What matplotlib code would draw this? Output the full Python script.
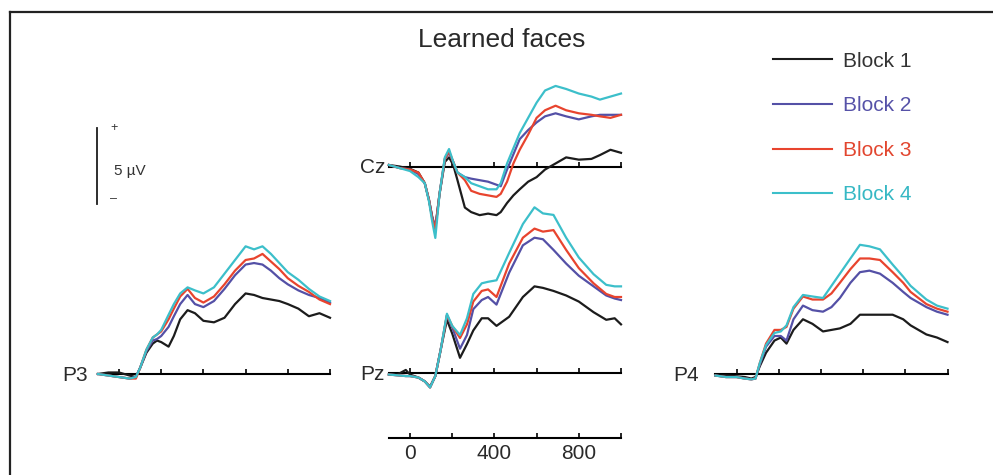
import matplotlib.pyplot as plt
from matplotlib.lines import Line2D

plt.rcParams['font.family'] = ['Liberation Sans', 'DejaVu Sans']

W, H = 993, 475
PX_MS = 0.211   # pixels per ms
PX_UV = 15.2    # pixels per microvolt

labels = ['Block 1', 'Block 2', 'Block 3', 'Block 4']
line_colors = ['#1c1c1c', '#5450a6', '#e8442e', '#3cbfca']
text_colors = ['#333333', '#5652a8', '#e2462f', '#36b8c4']
ticks = [0, 200, 400, 600, 800, 1000]
tick_labels = ['0', '400', '800']

# P3
p3_t = [-100, -50, 0, 50, 80, 100, 130, 160, 180, 200, 235, 260, 290, 325, 360, 400, 450,
        500, 550, 600, 640, 680, 720, 760, 800, 850, 900, 950, 1000]
p3_b1 = [0.0, 0.1, 0.1, -0.1, -0.2, 0.4, 1.4, 2.0, 2.2, 2.1, 1.8, 2.5, 3.6, 4.2, 4.0, 3.5, 3.4,
         3.7, 4.6, 5.3, 5.2, 5.0, 4.9, 4.8, 4.6, 4.3, 3.8, 4.0, 3.7]
p3_b2 = [0.0, -0.1, -0.2, -0.3, -0.2, 0.4, 1.5, 2.2, 2.3, 2.5, 3.1, 3.8, 4.6, 5.2, 4.6, 4.4, 4.8,
         5.6, 6.5, 7.2, 7.3, 7.2, 6.8, 6.3, 5.9, 5.5, 5.2, 5.0, 4.7]
p3_b3 = [0.0, -0.1, -0.2, -0.3, -0.3, 0.4, 1.6, 2.4, 2.6, 2.8, 3.6, 4.3, 5.1, 5.6, 5.0, 4.7, 5.1,
         5.9, 6.8, 7.5, 7.6, 7.9, 7.4, 6.9, 6.3, 5.8, 5.4, 4.9, 4.6]
p3_b4 = [0.0, -0.1, -0.2, -0.3, -0.2, 0.4, 1.6, 2.4, 2.6, 2.9, 3.9, 4.6, 5.3, 5.7, 5.5, 5.3, 5.7,
         6.6, 7.5, 8.4, 8.2, 8.4, 7.9, 7.3, 6.7, 6.2, 5.6, 5.1, 4.8]

# Cz
cz_t = [-100, -50, 0, 40, 70, 90, 105, 120, 140, 165, 185, 205, 225, 260, 290, 330, 370, 410,
        430, 460, 490, 520, 560, 600, 640, 690, 740, 800, 860, 900, 950, 1000]
cz_b1 = [0.1, 0.0, -0.15, -0.4, -1.1, -2.2, -3.3, -4.1, -1.8, 0.3, 0.6, 0.1, -0.9, -2.7, -3.0,
         -3.2, -3.1, -3.2, -3.0, -2.4, -1.9, -1.5, -1.0, -0.7, -0.2, 0.2, 0.6, 0.45, 0.5, 0.75,
         1.1, 0.9]
cz_b2 = [0.1, -0.1, -0.2, -0.5, -1.1, -2.2, -3.3, -4.0, -1.8, 0.5, 0.9, 0.3, -0.4, -0.7, -0.8,
         -0.9, -1.0, -1.2, -1.3, -0.2, 0.8, 1.8, 2.4, 2.9, 3.3, 3.5, 3.3, 3.1, 3.3, 3.4, 3.4, 3.4]
cz_b3 = [0.1, -0.1, -0.2, -0.4, -1.1, -2.2, -3.4, -4.1, -1.8, 0.5, 1.0, 0.3, -0.4, -0.9, -1.6,
         -1.8, -1.9, -2.0, -1.8, -1.0, 0.2, 1.1, 2.1, 3.2, 3.7, 4.0, 3.7, 3.5, 3.4, 3.3, 3.2, 3.4]
cz_b4 = [0.1, -0.1, -0.3, -0.7, -1.1, -2.3, -3.6, -4.7, -1.8, 0.6, 1.15, 0.3, -0.4, -0.7, -1.1,
         -1.3, -1.5, -1.5, -1.1, 0.2, 1.2, 2.2, 3.2, 4.2, 5.0, 5.3, 5.1, 4.8, 4.6, 4.4, 4.6, 4.8]

# Pz
pz_t = [-100, -60, -20, 0, 40, 70, 95, 120, 145, 175, 200, 237, 270, 300, 340, 370, 410, 470,
        535, 590, 630, 680, 740, 800, 870, 930, 970, 1000]
pz_b1 = [-0.1, -0.1, 0.2, -0.1, -0.3, -0.55, -0.9, -0.2, 1.5, 3.5, 2.6, 1.0, 1.9, 2.8, 3.6, 3.6,
         3.1, 3.7, 5.0, 5.7, 5.6, 5.4, 5.1, 4.7, 4.0, 3.5, 3.6, 3.2]
pz_b2 = [-0.1, -0.15, -0.2, -0.2, -0.3, -0.55, -0.95, -0.2, 1.5, 3.8, 3.0, 1.6, 2.5, 4.2, 4.8,
         5.0, 4.5, 6.6, 8.4, 8.9, 8.8, 8.1, 7.2, 6.4, 5.7, 5.1, 4.9, 4.8]
pz_b3 = [-0.1, -0.15, -0.2, -0.2, -0.3, -0.55, -0.95, -0.2, 1.5, 3.8, 3.1, 2.3, 3.2, 4.7, 5.4,
         5.5, 5.0, 7.2, 8.9, 9.5, 9.3, 9.4, 8.1, 6.9, 5.9, 5.2, 5.0, 5.0]
pz_b4 = [-0.1, -0.15, -0.2, -0.2, -0.3, -0.55, -0.95, -0.2, 1.5, 3.9, 3.1, 2.5, 3.6, 5.2, 5.9,
         6.0, 6.1, 7.9, 9.8, 10.9, 10.5, 10.4, 8.9, 7.6, 6.5, 5.8, 5.7, 5.7]

# P4
p4_t = [-100, -50, 0, 40, 70, 90, 110, 140, 180, 210, 237, 270, 315, 360, 410, 450, 490, 540,
        585, 630, 680, 740, 790, 825, 900, 950, 1000]
p4_b1 = [-0.1, -0.1, -0.15, -0.2, -0.3, -0.2, 0.5, 1.4, 2.2, 2.4, 2.0, 2.9, 3.6, 3.3, 2.8, 2.9,
         3.0, 3.3, 3.9, 3.9, 3.9, 3.9, 3.6, 3.2, 2.6, 2.4, 2.1]
p4_b2 = [-0.1, -0.2, -0.2, -0.3, -0.35, -0.3, 0.6, 1.8, 2.5, 2.5, 2.2, 3.6, 4.5, 4.2, 4.1, 4.4,
         5.0, 6.0, 6.7, 6.8, 6.6, 6.0, 5.4, 5.0, 4.4, 4.1, 3.9]
p4_b3 = [-0.1, -0.2, -0.2, -0.3, -0.35, -0.3, 0.7, 2.0, 2.9, 2.9, 3.1, 4.3, 5.1, 4.9, 4.9, 5.3,
         6.0, 6.9, 7.6, 7.6, 7.5, 6.7, 6.0, 5.4, 4.6, 4.3, 4.1]
p4_b4 = [-0.1, -0.2, -0.2, -0.3, -0.35, -0.3, 0.7, 1.9, 2.7, 2.8, 3.2, 4.4, 5.2, 5.1, 5.0, 5.8,
         6.6, 7.6, 8.5, 8.4, 8.2, 7.2, 6.4, 5.8, 4.9, 4.5, 4.3]

# site name, t=0 pixel x, baseline pixel y, label gap (px), data
sites = [
    ('P3', 119, 374, 10, p3_t, [p3_b1, p3_b2, p3_b3, p3_b4]),
    ('Cz', 410, 166.5, 4, cz_t, [cz_b1, cz_b2, cz_b3, cz_b4]),
    ('Pz', 410, 373, 4, pz_t, [pz_b1, pz_b2, pz_b3, pz_b4]),
    ('P4', 736.5, 374, 17, p4_t, [p4_b1, p4_b2, p4_b3, p4_b4]),
]


def erp_axes(fig, x0, y0, t_min=-130, t_max=1020, uv_min=-6, uv_max=12):
    left = (x0 + t_min * PX_MS) / W
    right = (x0 + t_max * PX_MS) / W
    top = 1 - (y0 - uv_max * PX_UV) / H
    bottom = 1 - (y0 - uv_min * PX_UV) / H
    ax = fig.add_axes([left, bottom, right - left, top - bottom])
    ax.set_xlim(t_min, t_max)
    ax.set_ylim(uv_min, uv_max)
    ax.patch.set_alpha(0)
    for s in ['top', 'right', 'left']:
        ax.spines[s].set_visible(False)
    ax.spines['bottom'].set_position(('data', 0))
    ax.spines['bottom'].set_bounds(-100, 1000)
    ax.spines['bottom'].set_linewidth(1.5)
    ax.set_yticks([])
    ax.set_xticks(ticks)
    ax.tick_params(axis='x', direction='in', length=3.5, width=1.2, labelbottom=False)
    return ax


fig = plt.figure(figsize=(W / 100, H / 100), dpi=100)

for name, x0, y0, gap, t, curves in sites:
    ax = erp_axes(fig, x0, y0)
    for vals, c in zip(curves, line_colors):
        ax.plot(t, vals, color=c, lw=1.6, solid_joinstyle='round', zorder=3)
    ax.annotate(name, xy=(-100, 0), xytext=(-gap / 1.389, -7 / 1.389),
                textcoords='offset points', ha='right', va='baseline',
                fontsize=15, color='#2a2a2a')

# time axis below Pz
tax = erp_axes(fig, 410, 438, uv_min=-2, uv_max=2)
tax.set_xticks([0, 400, 800])
tax.set_xticklabels(tick_labels)
tax.set_xticks([200, 600, 1000], minor=True)
tax.tick_params(axis='x', which='both', direction='in', length=3.5, width=1.2,
                labelbottom=True, labelsize=15, labelcolor='#2a2a2a', pad=4)

# 5 uV scale bar
sax = fig.add_axes([90 / W, 1 - 212 / H, 80 / W, 92 / H])
sax.set_xlim(0, 80)
sax.set_ylim(-(212 - 204) / PX_UV, 5 + (128 - 120) / PX_UV)
sax.axis('off')
sax.plot([7, 7], [0, 5], color='#1c1c1c', lw=1.3)
sax.text(20, 5.0, '+', fontsize=9, ha='left', va='center', color='#333333')
sax.text(24, 2.15, '5 µV', fontsize=11, ha='left', va='center', color='#333333')
sax.text(20, 0.3, '–', fontsize=9, ha='left', va='center', color='#333333')

# legend
for i, (lab, lc, tc) in enumerate(zip(labels, line_colors, text_colors)):
    y = 59.3 + i * 44.6
    fig.add_artist(Line2D([773 / W, 832 / W], [1 - y / H, 1 - y / H], color=lc, lw=1.5))
    fig.text(843 / W, 1 - (y + 7.3) / H, lab, color=tc, fontsize=15, va='baseline')

fig.text(502 / W, 1 - 46.7 / H, 'Learned faces', ha='center', va='baseline',
         fontsize=19, color='#2a2a2a')

# frame (left and top edges)
fig.add_artist(Line2D([10 / W, 10 / W], [0, 1 - 12 / H], color='#222222', lw=1.6))
fig.add_artist(Line2D([10 / W, 1], [1 - 12 / H, 1 - 12 / H], color='#222222', lw=1.6))

fig.savefig('out.png', dpi=100)
